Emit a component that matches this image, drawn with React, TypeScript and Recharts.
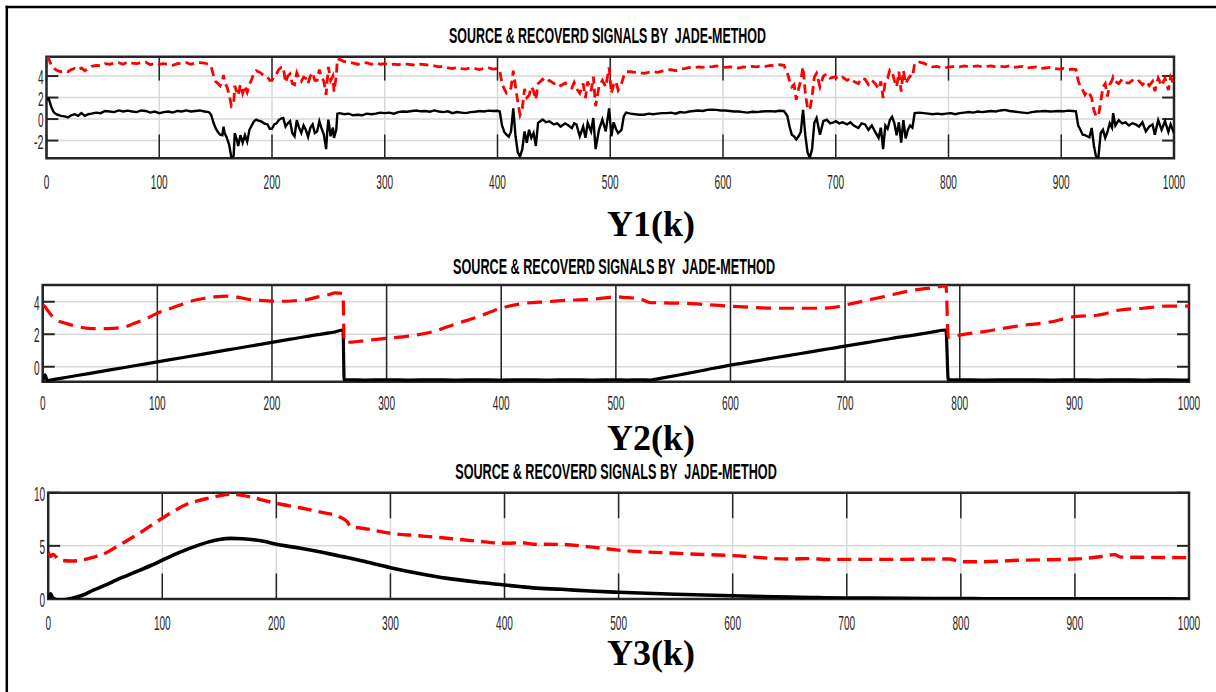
import { LineChart, Line, XAxis, YAxis, CartesianGrid, ReferenceLine, ReferenceArea } from 'recharts'

const W = 1216
const H = 692

const FONT_SANS = '"Liberation Sans", Arial, Helvetica, sans-serif'
const FONT_SERIF = '"Liberation Serif", "Times New Roman", serif'
const TICK_COLOR = '#262626'

const TITLE = 'SOURCE & RECOVERD SIGNALS BY  JADE-METHOD'
const Y_LABELS = ['Y1(k)', 'Y2(k)', 'Y3(k)']
const X_TICKS = [0, 100, 200, 300, 400, 500, 600, 700, 800, 900, 1000]
const Y1_TICKS = [-2, 0, 2, 4]
const Y2_TICKS = [0, 2, 4]
const Y3_TICKS = [0, 5, 10]

// panel 1 : noisy source (black) and recovered (red dashed)
const K1 = [
    0, 2, 4, 6, 8, 10, 13, 16, 19, 22, 25, 28, 31, 34, 37, 40, 44, 48, 52, 56, 60, 64, 68, 72, 76, 80, 84, 88, 92, 96, 100, 104, 108, 112, 116, 120, 124, 128, 132, 136, 140, 144,
    146, 148, 150, 152, 154, 156, 157, 158, 160, 162, 164, 166, 167, 169, 170, 172, 174, 176, 178, 180, 182, 184, 186, 188, 190, 193, 196, 198, 200, 202,
    204, 206, 208, 210, 212, 214, 216, 218, 220, 222, 224, 226, 228, 230, 232, 234, 236, 238, 240, 242, 244, 246, 248, 249, 250, 252, 254, 255, 257, 258,
    260, 264, 268, 272, 276, 280, 284, 288, 292, 296, 300, 304, 308, 312, 316, 320, 324, 328, 332, 336, 340, 344, 348, 352, 356, 360, 364, 368, 372, 376, 380, 384, 388, 392, 396, 400,
    402, 404, 406, 408, 410, 412, 414, 416, 418, 420, 422, 424, 426, 428, 430, 432, 434, 436, 438, 440, 443, 446, 450, 453, 456, 460, 463, 466, 468, 470,
    473, 476, 478, 480, 483, 485, 487, 490, 493, 496, 499, 501, 503, 505, 507, 510, 512, 514,
    518, 522, 526, 530, 534, 538, 542, 546, 550, 554, 558, 562, 566, 570, 574, 578, 582, 586, 590, 594, 598, 602, 606, 610, 614, 618, 622, 626, 630, 634, 638, 642, 646, 650, 654,
    657, 659, 661, 663, 665, 667, 669, 671, 673, 675, 677, 679, 681, 683, 686, 689, 692, 695, 698, 700, 703, 706, 710, 713, 716, 720, 723, 726, 729, 732,
    735, 738, 740, 742, 744, 746, 748, 750, 752, 754, 756, 758, 760, 762, 764, 766, 768, 770,
    774, 778, 782, 786, 790, 794, 798, 802, 806, 810, 814, 818, 822, 826, 830, 834, 838, 842, 846, 850, 854, 858, 862, 866, 870, 874, 878, 882, 886, 890, 894, 898, 902, 906, 910, 913,
    915, 917, 919, 921, 923, 925, 927, 929, 931, 933, 935, 937, 939, 941, 943, 945, 946, 948, 951, 954, 957, 960, 963, 966, 969, 972, 975, 978, 981, 983,
    986, 989, 992, 995, 997, 1000,
]
const SRC1 = [
    1.8, 1.9, 1.2, 0.7, 0.5, 0.4, 0.3, 0.25, 0.15, 0.35, 0.45, 0.3, 0.55, 0.3, 0.45, 0.5, 0.6, 0.55, 0.75, 0.7, 0.65, 0.8, 0.7, 0.78, 0.7, 0.65, 0.8, 0.75, 0.6, 0.7, 0.55, 0.65, 0.7, 0.6, 0.75, 0.7, 0.8, 0.7, 0.75, 0.8, 0.7, 0.65,
    0.4, -0.3, -0.85, -1.2, -1.45, -1.5, -0.7, -1.3, -1.75, -2.4, -3.6, -3.4, -1.3, -2.0, -2.5, -1.5, -2.2, -1.5, -2.1, -1.0, -0.6, -0.2, -0.05, -0.15, -0.2, -0.4, -0.5, -0.9, -0.9, -0.5,
    -0.4, -0.1, 0.05, 0.1, -0.7, -0.4, -0.2, -1.3, -1.6, -0.1, -0.8, -1.3, -0.6, -1.0, -1.65, -0.8, -0.5, -1.3, -1.15, -0.2, -0.9, -1.45, -2.8, -1.2, -0.05, -1.6, -0.8, -1.75, -1.0, 0.5,
    0.55, 0.45, 0.5, 0.35, 0.4, 0.35, 0.5, 0.45, 0.5, 0.6, 0.55, 0.6, 0.5, 0.65, 0.7, 0.68, 0.75, 0.8, 0.72, 0.75, 0.68, 0.8, 0.7, 0.65, 0.72, 0.55, 0.65, 0.6, 0.55, 0.65, 0.68, 0.75, 0.7, 0.78, 0.75, 0.77,
    0.7, -0.6, -1.2, -1.45, -1.65, -1.15, 1.0, -1.6, -3.1, -3.5, -2.8, -1.15, -2.2, -1.0, -1.75, -1.3, -2.5, -0.35, -0.2, -0.05, -0.3, -0.2, -0.5, -0.4, -0.7, -0.4, -0.6, -0.85, -0.4, -0.5,
    -1.6, -0.7, -1.75, -0.35, -1.15, 0.1, -2.8, -1.0, -0.05, -1.15, 1.0, -1.6, -0.3, -0.9, -1.3, -1.0, 0.25, 0.6,
    0.5, 0.45, 0.4, 0.4, 0.5, 0.45, 0.5, 0.55, 0.55, 0.6, 0.5, 0.65, 0.6, 0.7, 0.75, 0.8, 0.75, 0.85, 0.86, 0.85, 0.8, 0.8, 0.75, 0.7, 0.7, 0.65, 0.6, 0.68, 0.65, 0.7, 0.72, 0.74, 0.7, 0.77, 0.75,
    0.3, -0.7, -1.45, -1.6, -1.9, -1.6, -1.2, 0.86, -1.5, -3.1, -3.6, -2.8, -0.35, 0.1, -1.45, -0.2, -0.05, -0.4, -0.3, -0.2, -0.4, -0.3, -0.5, -0.3, -0.6, -0.83, -0.4, -0.5, -1.0, -0.6,
    -1.2, -1.75, -0.8, -2.8, -0.6, -0.9, -0.1, 0.2, -0.4, -1.5, -0.3, -2.2, -0.1, -1.8, -1.0, -0.6, -0.8, 0.55,
    0.6, 0.55, 0.5, 0.45, 0.5, 0.45, 0.5, 0.55, 0.45, 0.55, 0.6, 0.65, 0.6, 0.7, 0.65, 0.7, 0.75, 0.7, 0.8, 0.85, 0.75, 0.7, 0.65, 0.6, 0.55, 0.65, 0.7, 0.72, 0.75, 0.7, 0.72, 0.75, 0.72, 0.78, 0.75, 0.72,
    -0.6, -1.0, -1.45, -1.5, -1.6, -1.7, -0.83, -2.5, -3.6, -3.5, -1.3, -1.0, -1.75, -1.2, -0.4, -0.8, 0.55, -0.6, -0.1, -0.4, -0.3, -0.6, -0.4, -0.5, -0.7, -0.3, -1.15, -0.7, -0.5, -1.45,
    -0.1, -1.0, -0.2, -1.2, -0.5, -1.3,
]
const REC1 = [
    5.8, 5.6, 5.1, 4.8, 4.6, 4.5, 4.4, 4.45, 4.4, 4.6, 4.7, 4.55, 4.75, 4.5, 4.7, 4.9, 5.0, 4.95, 5.15, 5.1, 5.2, 5.25, 5.1, 5.3, 5.2, 5.15, 5.25, 5.3, 5.05, 5.2, 5.1, 5.15, 5.1, 5.0, 5.15, 5.2, 5.25, 5.1, 5.2, 5.25, 5.2, 5.1,
    4.9, 4.1, 3.5, 3.3, 3.1, 3.6, 4.1, 3.4, 3.0, 2.3, 1.2, 1.4, 3.1, 2.4, 2.2, 3.2, 2.4, 3.1, 2.5, 3.2, 3.7, 4.3, 4.5, 4.4, 4.3, 4.0, 3.9, 3.6, 3.6, 4.0,
    4.2, 4.6, 4.8, 4.85, 3.4, 4.0, 4.2, 3.3, 3.2, 4.3, 3.8, 3.5, 3.9, 3.8, 3.3, 4.0, 4.3, 3.6, 3.6, 4.6, 3.9, 3.5, 2.25, 3.6, 4.85, 3.6, 4.0, 2.55, 4.0, 5.6,
    5.55, 5.35, 5.3, 5.2, 5.1, 5.15, 5.25, 5.1, 5.2, 5.1, 5.15, 5.05, 5.1, 5.05, 5.15, 5.1, 5.05, 5.0, 5.1, 5.05, 5.0, 4.95, 4.85, 4.9, 4.75, 4.7, 4.8, 4.7, 4.65, 4.75, 4.7, 4.6, 4.7, 4.75, 4.65, 4.7,
    4.5, 3.3, 2.8, 2.4, 2.5, 2.9, 4.5, 3.0, 1.6, 0.4, 1.0, 2.8, 2.0, 2.2, 3.0, 2.6, 1.8, 3.3, 3.5, 3.7, 3.4, 3.6, 3.3, 3.4, 3.1, 3.35, 3.1, 2.9, 3.4, 2.85,
    2.4, 3.3, 1.95, 3.5, 2.6, 3.95, 1.2, 3.0, 3.6, 3.0, 4.8, 2.4, 3.2, 3.5, 2.7, 3.3, 4.0, 4.4,
    4.4, 4.35, 4.3, 4.25, 4.35, 4.4, 4.35, 4.45, 4.55, 4.6, 4.5, 4.65, 4.7, 4.8, 4.75, 4.85, 4.8, 4.9, 4.85, 4.95, 4.85, 4.8, 4.85, 4.8, 4.75, 4.85, 4.8, 4.9, 4.85, 4.95, 4.9, 5.0, 4.95, 5.05, 5.0,
    4.3, 3.6, 3.0, 3.2, 1.8, 2.8, 3.6, 4.85, 2.4, 1.0, 0.85, 2.1, 3.9, 4.25, 3.0, 4.0, 4.2, 3.8, 3.9, 3.9, 3.7, 3.9, 3.6, 3.8, 3.5, 3.3, 3.8, 3.7, 3.2, 3.6,
    3.3, 2.8, 3.5, 1.95, 3.6, 3.8, 4.55, 4.4, 3.6, 3.0, 4.4, 2.55, 4.5, 3.3, 3.7, 4.0, 3.9, 5.2,
    5.3, 5.2, 5.0, 4.85, 4.9, 4.75, 4.8, 4.85, 4.9, 4.85, 4.95, 4.85, 4.9, 4.95, 4.85, 4.9, 4.95, 4.85, 4.9, 4.85, 4.95, 4.8, 4.85, 4.9, 4.75, 4.8, 4.85, 4.7, 4.75, 4.8, 4.7, 4.65, 4.7, 4.6, 4.65, 4.6,
    3.6, 3.0, 2.7, 2.25, 2.6, 2.4, 1.95, 0.8, 0.25, 0.3, 1.6, 3.0, 3.3, 2.1, 3.2, 3.6, 3.9, 3.5, 3.3, 3.7, 3.4, 3.35, 3.6, 3.4, 3.55, 3.2, 3.5, 3.1, 3.5, 2.6,
    3.8, 3.1, 3.8, 2.7, 3.9, 3.2,
]

// panel 2 : ramps
const K2 = [
    0, 2, 4, 10, 20, 30, 40, 50, 60, 70, 80, 90, 100, 110, 120, 130, 140, 150, 160, 170, 180, 190, 200, 210, 220, 230, 240, 250, 255, 262,
    263, 270, 280, 300, 320, 340, 360, 380, 400, 420, 440, 460, 480, 500, 510, 520, 530, 540, 560, 580,
    600, 620, 640, 660, 680, 690, 700, 720, 740, 760, 775, 788, 790, 800, 820, 850, 880, 900, 920, 940, 960, 980, 1000,
]
const SRC2 = [
    -0.9, -0.5, -0.85, -0.78, -0.66, -0.54, -0.42, -0.3, -0.18, -0.06, 0.06, 0.18, 0.3, 0.42, 0.54, 0.66, 0.78, 0.9, 1.02, 1.14, 1.26, 1.38, 1.5, 1.62, 1.74, 1.86, 1.98, 2.08, 2.14, 2.26,
    -0.8, -0.8, -0.82, -0.8, -0.82, -0.8, -0.82, -0.8, -0.82, -0.8, -0.82, -0.8, -0.82, -0.8, -0.82, -0.8, -0.82, -0.7, -0.44, -0.17,
    0.1, 0.33, 0.57, 0.8, 1.04, 1.15, 1.27, 1.5, 1.74, 1.95, 2.12, 2.26, -0.8, -0.8, -0.82, -0.8, -0.82, -0.8, -0.82, -0.8, -0.82, -0.8, -0.82,
]
const REC2 = [
    3.8, 3.7, 3.5, 2.98, 2.67, 2.48, 2.36, 2.34, 2.36, 2.42, 2.67, 2.95, 3.29, 3.55, 3.8, 4.05, 4.2, 4.3, 4.35, 4.28, 4.15, 4.08, 4.04, 4.03, 4.06, 4.12, 4.3, 4.45, 4.55, 4.5,
    1.5, 1.52, 1.6, 1.75, 1.89, 2.15, 2.63, 3.08, 3.6, 3.9, 4.0, 4.1, 4.15, 4.3, 4.25, 4.2, 3.95, 3.93, 3.9, 3.82,
    3.73, 3.65, 3.6, 3.6, 3.6, 3.65, 3.8, 4.1, 4.41, 4.72, 4.85, 4.97, 1.81, 1.95, 2.15, 2.5, 2.77, 3.08, 3.17, 3.49, 3.6, 3.73, 3.73,
]

// panel 3 : bump and decay
const K3 = [
    0, 2, 4, 10, 20, 30, 40, 50, 60, 70, 80, 90, 100, 110, 120, 130, 140, 150, 160, 170, 180, 190, 200, 220, 240, 255, 262, 265, 280, 300,
    325, 350, 375, 400, 415, 425, 450, 475, 500, 550, 600, 650, 670, 680, 700, 750, 790, 800, 820, 850, 900, 920, 935, 940, 960, 1000,
]
const SRC3 = [
    0.0, 0.5, 0.1, -0.1, 0.05, 0.35, 0.85, 1.3, 1.8, 2.25, 2.7, 3.15, 3.65, 4.15, 4.6, 5.0, 5.35, 5.6, 5.7, 5.67, 5.58, 5.4, 5.14, 4.8, 4.4, 4.05, 3.9, 3.83, 3.45, 2.95,
    2.4, 1.94, 1.6, 1.32, 1.15, 1.05, 0.91, 0.75, 0.63, 0.45, 0.3, 0.18, 0.14, 0.12, 0.1, 0.06, 0.04, 0.04, 0.03, 0.02, 0.02, 0.01, 0.01, 0.01, 0.01, 0.0,
]
const REC3 = [
    4.45, 4.0, 4.2, 3.67, 3.57, 3.67, 3.95, 4.3, 4.92, 5.55, 6.18, 6.9, 7.6, 8.25, 8.84, 9.2, 9.47, 9.7, 9.85, 9.75, 9.53, 9.25, 9.0, 8.6, 8.15, 7.74, 7.27, 6.85, 6.58, 6.18,
    5.95, 5.71, 5.45, 5.24, 5.3, 5.15, 5.14, 4.9, 4.6, 4.3, 4.08, 3.76, 3.8, 3.72, 3.73, 3.73, 3.76, 3.51, 3.51, 3.64, 3.76, 3.95, 4.17, 3.95, 3.92, 3.89,
]

const toRows = (k: number[], src: number[], rec: number[]) => k.map((v, i) => ({ k: v, src: src[i], rec: rec[i] }))

const PANELS = [
    {
        top: 44, height: 156, margin: { top: 12.7, right: 42, bottom: 11.7, left: 6.5 }, curve: 'linear',
        domain: [-3.65, 5.8], yTicks: Y1_TICKS, tickFrac: 0.235, srcW: 2.4, recW: 2.8, dash: '9 5', xDy: 31,
        rows: toRows(K1, SRC1, REC1),
    },
    {
        top: 274, height: 146, margin: { top: 11, right: 27, bottom: 8.3, left: 2.7 }, curve: 'monotone',
        domain: [-0.92, 5.03], yTicks: Y2_TICKS, tickFrac: 1, srcW: 3.2, recW: 3.2, dash: '15 8', xDy: 28.5,
        rows: toRows(K2, SRC2, REC2),
    },
    {
        top: 478, height: 157, margin: { top: 14.7, right: 27, bottom: 6, left: 8.2 }, curve: 'monotone',
        domain: [0, 10], yTicks: Y3_TICKS, tickFrac: 0.24, srcW: 3.6, recW: 3.4, dash: '14 7', xDy: 31,
        rows: toRows(K3, SRC3, REC3),
    },
]

const labelWidth = (s: string) => s.split('').reduce((w, c) => w + (c === '-' ? 4 : 5.6), 0)

function XTick(props: any, dy: number) {
    const s = String(props.payload.value)
    return (
        <text x={props.x} y={props.y + dy} textAnchor="middle" fontFamily={FONT_SANS} fontSize={21} fill={TICK_COLOR}
            textLength={labelWidth(s)} lengthAdjust="spacingAndGlyphs">{s}</text>
    )
}

function YTick(props: any) {
    const s = String(props.payload.value)
    return (
        <text x={props.x - 3} y={props.y + 8} textAnchor="end" fontFamily={FONT_SANS} fontSize={21} fill={TICK_COLOR}
            textLength={labelWidth(s)} lengthAdjust="spacingAndGlyphs">{s}</text>
    )
}

function Panel({ p }: { p: typeof PANELS[number] }) {
    const [lo, hi] = p.domain
    const tl = p.tickFrac * (hi - lo)
    const yt = 10.5
    return (
        <div style={{ position: 'absolute', left: 0, top: p.top, width: W, height: p.height }}>
            <LineChart width={W} height={p.height} data={p.rows} margin={p.margin}>
                <CartesianGrid stroke="#d9d9d9" strokeWidth={1.5} />
                <XAxis dataKey="k" type="number" domain={[0, 1000]} ticks={X_TICKS} interval={0} allowDataOverflow
                    axisLine={false} tickLine={false} tickSize={0} tickMargin={0} height={30}
                    tick={(t: any) => XTick(t, p.xDy)} />
                <YAxis type="number" domain={p.domain} ticks={p.yTicks} interval={0} allowDataOverflow
                    axisLine={false} tickLine={false} tickSize={0} tickMargin={0} width={40} tick={YTick} />
                {X_TICKS.map((t) => tl >= (hi - lo) ? (
                    <ReferenceLine key={'v' + t} segment={[{ x: t, y: lo }, { x: t, y: hi }]} stroke={TICK_COLOR} strokeWidth={1.5} />
                ) : [
                    <ReferenceLine key={'b' + t} segment={[{ x: t, y: lo }, { x: t, y: lo + tl }]} stroke={TICK_COLOR} strokeWidth={1.5} />,
                    <ReferenceLine key={'t' + t} segment={[{ x: t, y: hi - tl }, { x: t, y: hi }]} stroke={TICK_COLOR} strokeWidth={1.5} />,
                ])}
                {p.yTicks.map((v) => [
                    <ReferenceLine key={'l' + v} segment={[{ x: 0, y: v }, { x: yt, y: v }]} stroke={TICK_COLOR} strokeWidth={2} />,
                    <ReferenceLine key={'r' + v} segment={[{ x: 1000 - yt, y: v }, { x: 1000, y: v }]} stroke={TICK_COLOR} strokeWidth={2} />,
                ])}
                <ReferenceArea x1={0} x2={1000} y1={lo} y2={hi} fill="none" stroke={TICK_COLOR} strokeWidth={2.5} ifOverflow="visible" />
                <Line dataKey="src" type={p.curve as any} stroke="#000000" strokeWidth={p.srcW} dot={false} activeDot={false} isAnimationActive={false} />
                <Line dataKey="rec" type={p.curve as any} stroke="#ff0000" strokeWidth={p.recW} strokeDasharray={p.dash} dot={false} activeDot={false} isAnimationActive={false} />
            </LineChart>
        </div>
    )
}

// title and y-label positions on the page
const TITLE_POS = [{ x: 607.5, y: 43, w: 317 }, { x: 614, y: 274, w: 322 }, { x: 616, y: 479, w: 321.5 }]
const LABEL_POS = [{ x: 651, y: 236 }, { x: 651, y: 450 }, { x: 651, y: 665 }]

export default function App() {
    return (
        <div style={{ position: 'absolute', left: 0, top: 0, width: W, height: H, background: '#ffffff', overflow: 'hidden' }}>
            {PANELS.map((p, i) => <Panel key={i} p={p} />)}
            <svg width={W} height={H} style={{ position: 'absolute', left: 0, top: 0, pointerEvents: 'none' }}>
                <line x1={6.8} y1={5.8} x2={6.8} y2={H} stroke="#000" strokeWidth={2.5} />
                <line x1={5.6} y1={7} x2={W} y2={7} stroke="#000" strokeWidth={2.5} />
                {TITLE_POS.map((t, i) => (
                    <text key={'t' + i} x={t.x} y={t.y} textAnchor="middle" fontFamily={FONT_SANS} fontWeight="bold" fontSize={22}
                        fill="#000" textLength={t.w} lengthAdjust="spacingAndGlyphs" style={{ whiteSpace: 'pre' }}>{TITLE}</text>
                ))}
                {LABEL_POS.map((l, i) => (
                    <text key={'l' + i} x={l.x} y={l.y} textAnchor="middle" fontFamily={FONT_SERIF} fontWeight="bold" fontSize={36} fill="#000">
                        {Y_LABELS[i]}
                    </text>
                ))}
            </svg>
        </div>
    )
}
